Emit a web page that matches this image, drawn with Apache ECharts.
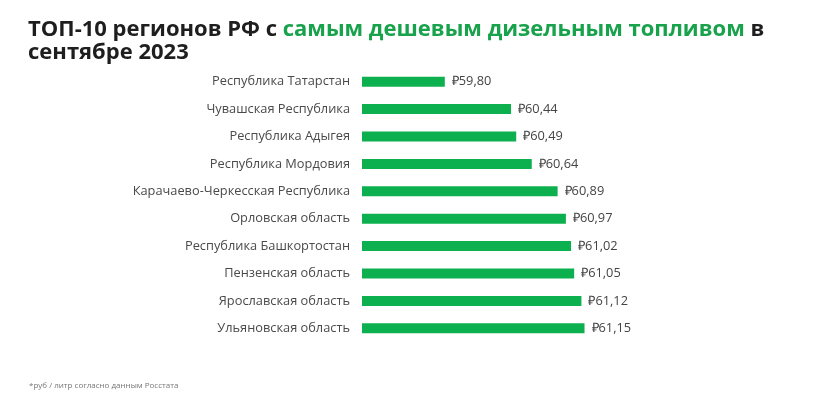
<!DOCTYPE html>
<html>
<head>
<meta charset="utf-8">
<script src="https://cdn.jsdelivr.net/npm/echarts@6/dist/echarts.min.js"></script>
<style>
  html, body { margin: 0; padding: 0; background: #fff; }
  #chart { width: 817px; height: 397px; }
</style>
</head>
<body>
<div id="chart"></div>
<script>
// регионы сверху вниз
const regions = [
  'Республика Татарстан',
  'Чувашская Республика',
  'Республика Адыгея',
  'Республика Мордовия',
  'Карачаево-Черкесская Республика',
  'Орловская область',
  'Республика Башкортостан',
  'Пензенская область',
  'Ярославская область',
  'Ульяновская область'
];
// руб / литр
const prices = [59.80, 60.44, 60.49, 60.64, 60.89, 60.97, 61.02, 61.05, 61.12, 61.15];

const chart = echarts.init(document.getElementById('chart'));
chart.setOption({
  animation: false,
  backgroundColor: '#fff',
  title: [{
    left: 23,
    top: 13,
    text: '{a|ТОП-10 регионов РФ с }{g|самым дешевым дизельным топливом}{a| в}\n{a|сентябре 2023}',
    textStyle: {
      rich: {
        a: { fontFamily: 'Open Sans', fontWeight: 'bold', fontSize: 22, color: '#1e1e1e', lineHeight: 23 },
        g: { fontFamily: 'Open Sans', fontWeight: 'bold', fontSize: 22, color: '#17a24b', lineHeight: 23 }
      }
    }
  }, {
    left: 24,
    top: 377,
    text: '*руб / литр согласно данным Росстата',
    textStyle: { fontFamily: 'Open Sans', fontWeight: 'normal', fontSize: 8, color: '#777' }
  }],
  grid: { left: 362, right: 41, top: 68, bottom: 55, containLabel: false },
  xAxis: {
    type: 'value',
    min: 59,
    max: 63,
    show: false
  },
  yAxis: {
    type: 'category',
    inverse: true,
    data: regions,
    axisLine: { show: false },
    axisTick: { show: false },
    axisLabel: { margin: 12, fontFamily: 'Open Sans', fontSize: 12.8, color: '#4a4a4a' }
  },
  series: [{
    type: 'bar',
    data: prices,
    barWidth: 10,
    itemStyle: { color: '#0cb04e' },
    label: {
      show: true,
      position: 'right',
      distance: 7,
      fontFamily: 'Open Sans',
      fontSize: 12.8,
      color: '#444',
      formatter: p => '₽' + p.value.toFixed(2).replace('.', ',')
    }
  }]
});
</script>
</body>
</html>
